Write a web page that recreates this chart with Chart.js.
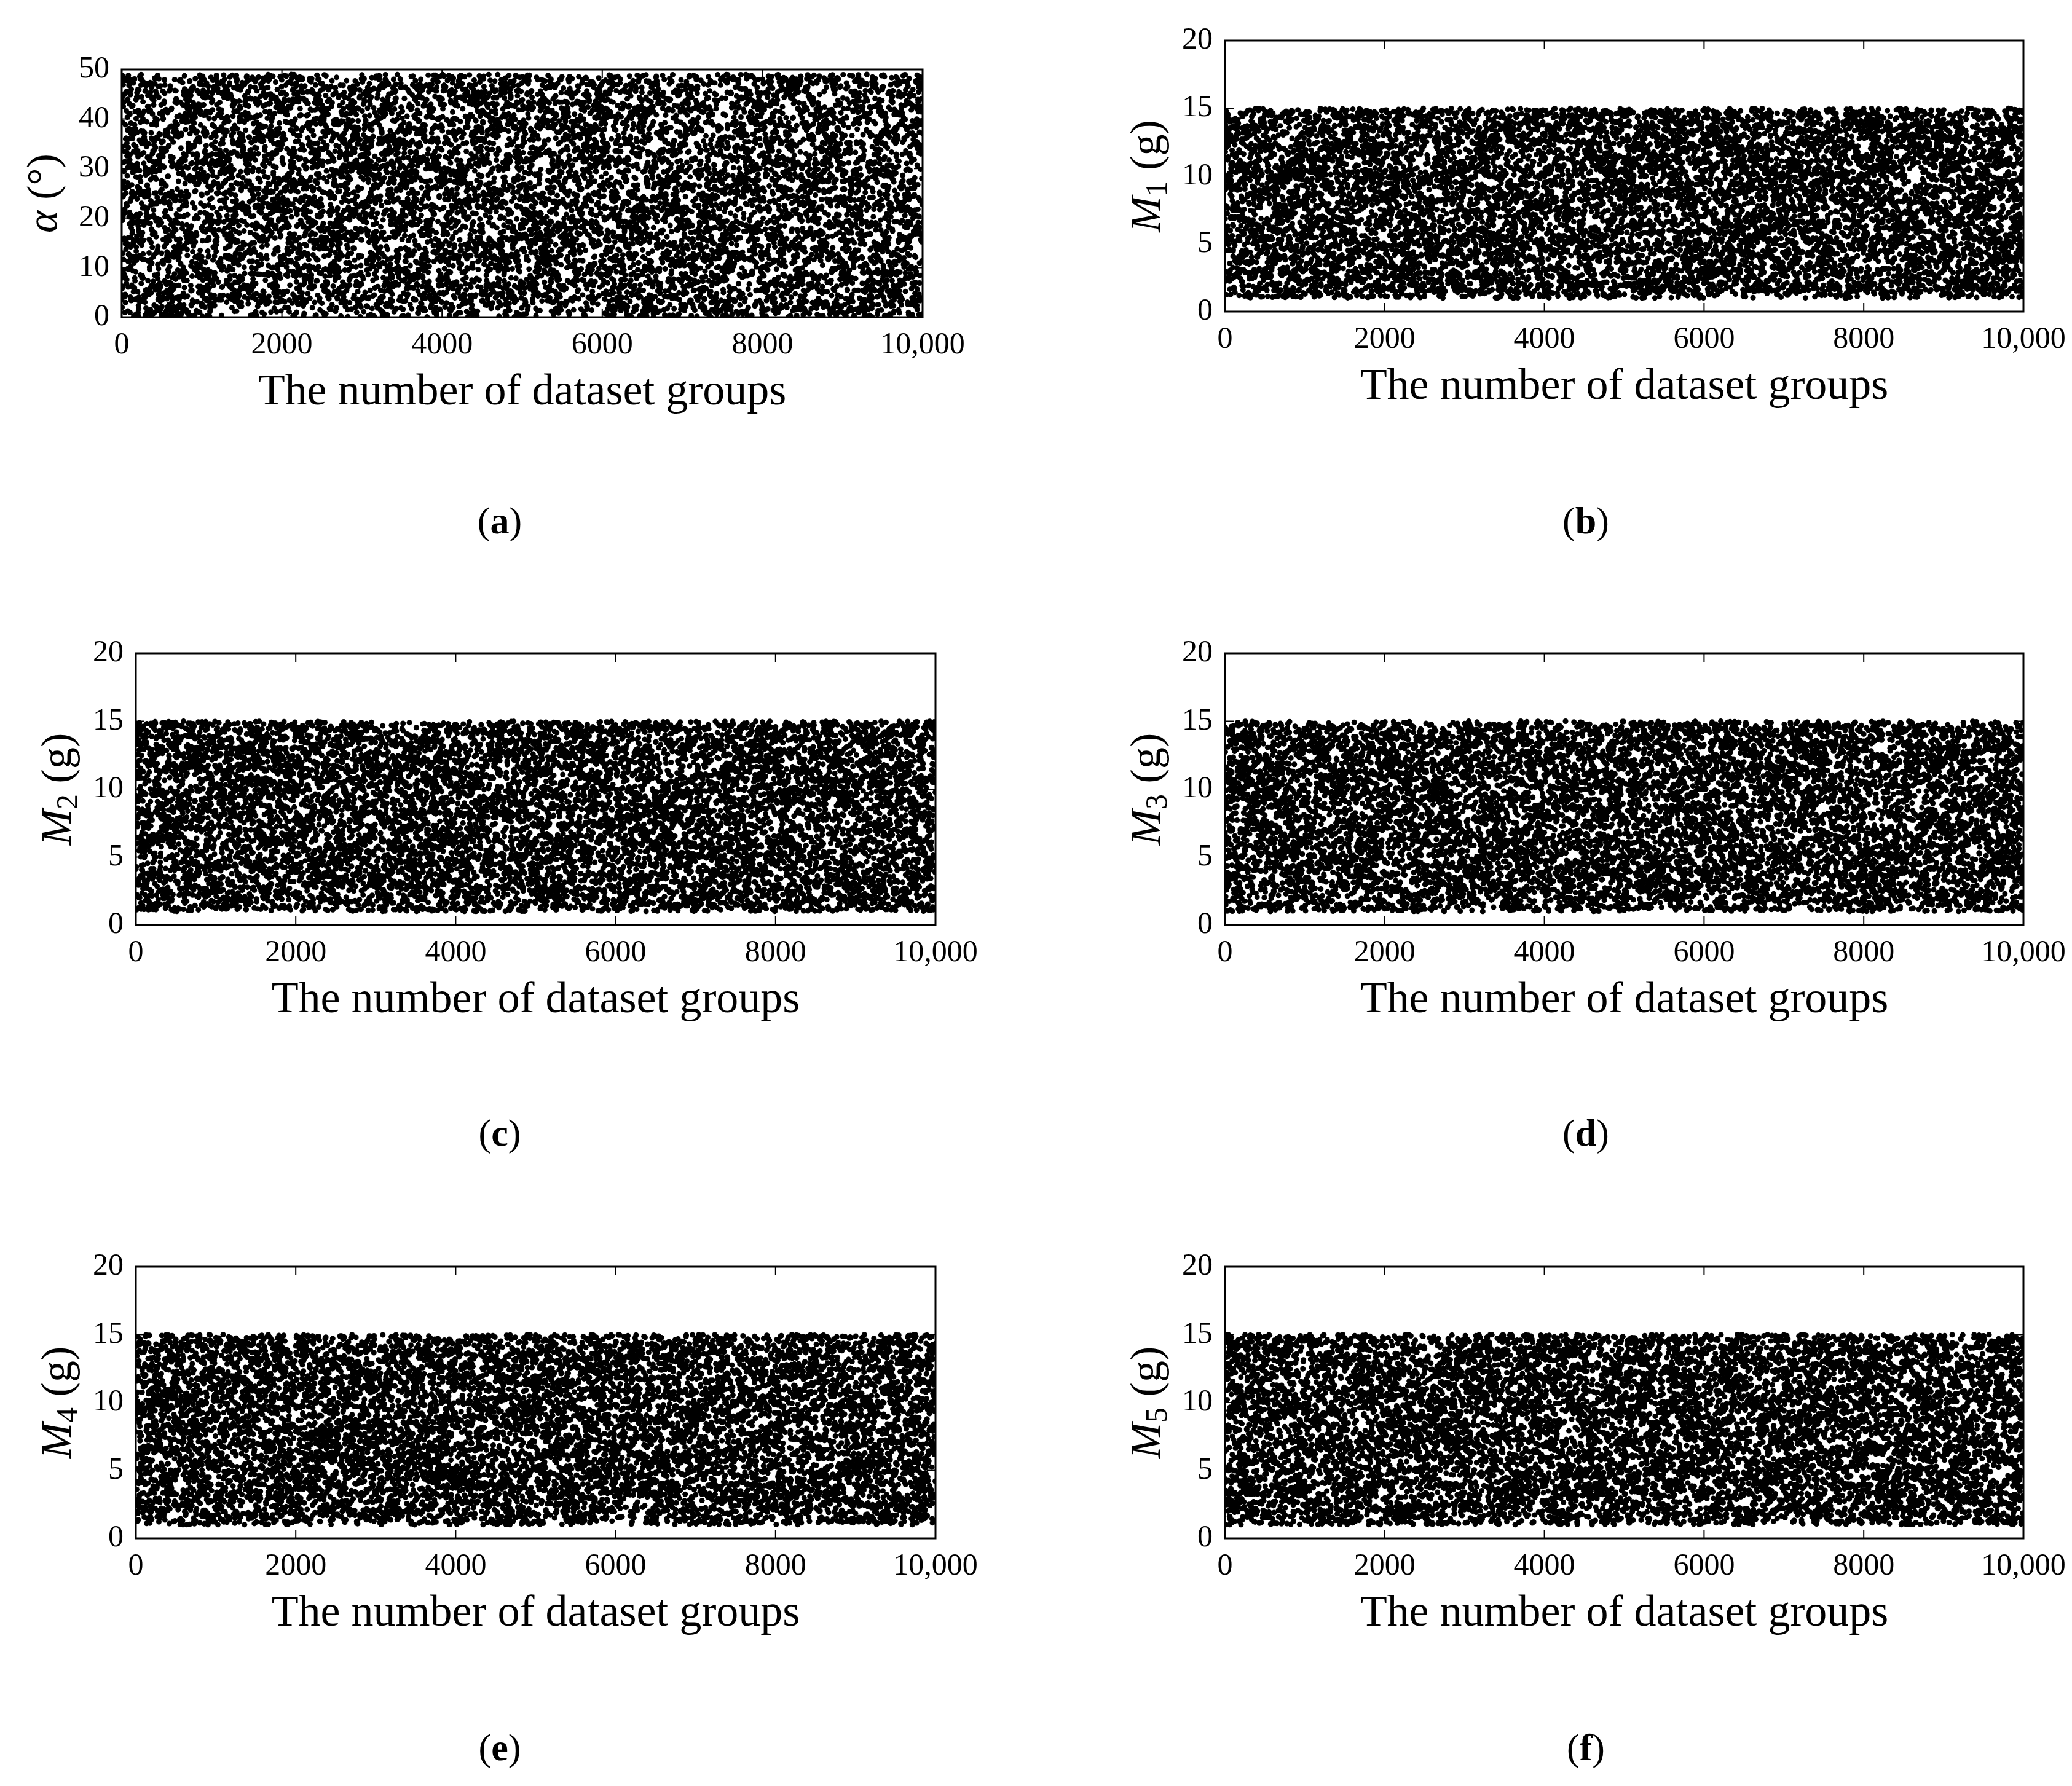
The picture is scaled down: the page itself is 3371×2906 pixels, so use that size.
<!DOCTYPE html>
<html><head><meta charset="utf-8">
<script src="https://cdn.jsdelivr.net/npm/chart.js@4/dist/chart.umd.min.js"></script>
<style>
body{margin:0;background:#fff;width:3371px;height:2906px;position:relative;overflow:hidden;font-family:"Liberation Serif",serif}
canvas{position:absolute}
.cap{position:absolute;font-size:62px;transform:translateX(-50%)}
.cap b{font-weight:bold}
</style></head><body>
<script>
// Panel definitions: y label parts, y range, sample range
const panelIds = ['a', 'b', 'c', 'd', 'e', 'f'];
const yLabelSymbols = ['α', 'M', 'M', 'M', 'M', 'M'];
const yLabelSubs = ['', '1', '2', '3', '4', '5'];
const yLabelUnits = [' (°)', ' (g)', ' (g)', ' (g)', ' (g)', ' (g)'];
const yMax = [50, 20, 20, 20, 20, 20];
const yStep = [10, 5, 5, 5, 5, 5];
const sampleMin = [0, 1, 1, 1, 1, 1];
const sampleMax = [49, 15, 15, 15, 15, 15];
const groupCount = 10000;
const xTicks = [0, 2000, 4000, 6000, 8000, 10000];
const xTickLabels = ['0', '2000', '4000', '6000', '8000', '10,000'];
const xTitle = 'The number of dataset groups';

// plot area boxes in page pixels [left, top, width, height]
const boxes = [[198,101,1303,415],[1993,54,1299,453],[221,1051,1301,454],[1993,1051,1299,454],[221,2049,1301,454],[1993,2049,1299,454]];
const capPos = [[813,812],[2580,812],[813,1808],[2580,1808],[813,2808],[2580,2808]];

// individual samples are unreadable noise; reproduce the uniform spread with a seeded generator
function mulberry32(a){return function(){a|=0;a=a+0x6D2B79F5|0;let t=Math.imul(a^a>>>15,1|a);t=t+Math.imul(t^t>>>7,61|t)^t;return((t^t>>>14)>>>0)/4294967296;};}

const frame = {
  id: 'frame',
  afterDraw(chart, args, o) {
    const {ctx, chartArea: a, scales: {x, y}} = chart;
    ctx.save();
    ctx.strokeStyle = '#000'; ctx.lineWidth = 3;
    ctx.strokeRect(a.left, a.top, a.right - a.left, a.bottom - a.top);
    ctx.lineWidth = 2;
    xTicks.forEach(v => { const px = x.getPixelForValue(v); ctx.beginPath(); ctx.moveTo(px, a.bottom); ctx.lineTo(px, a.bottom - 14); ctx.moveTo(px, a.top); ctx.lineTo(px, a.top + 14); ctx.stroke(); });
    for (let v = 0; v <= o.ymax; v += o.ystep) { const py = y.getPixelForValue(v); ctx.beginPath(); ctx.moveTo(a.left, py); ctx.lineTo(a.left + 14, py); ctx.moveTo(a.right, py); ctx.lineTo(a.right - 14, py); ctx.stroke(); }
    // x title
    ctx.fillStyle = '#000'; ctx.textAlign = 'center'; ctx.textBaseline = 'alphabetic';
    ctx.font = '72px "Liberation Serif"';
    ctx.fillText(xTitle, (a.left + a.right) / 2, a.bottom + 142);
    // y title, rotated
    ctx.translate(a.left - 124, (a.top + a.bottom) / 2);
    ctx.rotate(-Math.PI / 2);
    const f1 = 'italic 70px "Liberation Serif"', f2 = '50px "Liberation Serif"', f3 = '70px "Liberation Serif"';
    ctx.font = f1; const w1 = ctx.measureText(o.sym).width;
    ctx.font = f2; const w2 = o.sub ? ctx.measureText(o.sub).width : 0;
    ctx.font = f3; const w3 = ctx.measureText(o.unit).width;
    let sx = -(w1 + w2 + w3) / 2;
    ctx.textAlign = 'left'; ctx.textBaseline = 'middle';
    ctx.font = f1; ctx.fillText(o.sym, sx, 0); sx += w1;
    if (o.sub) { ctx.font = f2; ctx.fillText(o.sub, sx, 16); sx += w2; }
    ctx.font = f3; ctx.fillText(o.unit, sx, 0);
    ctx.restore();
  }
};

panelIds.forEach((id, i) => {
  const [L, T, W, H] = boxes[i];
  const mL = 170, mT = 30, mR = 80, mB = 160;
  const cv = document.createElement('canvas');
  cv.width = W + mL + mR; cv.height = H + mT + mB;
  cv.style.left = (L - mL) + 'px'; cv.style.top = (T - mT) + 'px';
  cv.style.width = cv.width + 'px'; cv.style.height = cv.height + 'px';
  document.body.appendChild(cv);
  const rnd = mulberry32(1234 + i * 97);
  const pts = [];
  for (let k = 1; k <= groupCount; k++) pts.push({x: k, y: sampleMin[i] + rnd() * (sampleMax[i] - sampleMin[i])});
  new Chart(cv, {
    type: 'scatter',
    data: {datasets: [{data: pts, backgroundColor: '#000', borderWidth: 0, pointRadius: 4.5}]},
    options: {
      responsive: false, animation: false, devicePixelRatio: 1,
      layout: {padding: {top: mT, right: mR, left: 0, bottom: 0}},
      plugins: {legend: {display: false}, tooltip: {enabled: false}, frame: {sym: yLabelSymbols[i], sub: yLabelSubs[i], unit: yLabelUnits[i], ymax: yMax[i], ystep: yStep[i]}},
      scales: {
        x: {type: 'linear', min: 0, max: groupCount, grid: {display: false}, border: {display: false},
            afterBuildTicks: s => { s.ticks = xTicks.map(v => ({value: v})); },
            afterFit: s => { s.height = mB; },
            ticks: {color: '#000', font: {family: 'Liberation Serif', size: 50}, padding: 8, maxRotation: 0,
                    callback: (v) => xTickLabels[xTicks.indexOf(v)]}},
        y: {min: 0, max: yMax[i], grid: {display: false}, border: {display: false},
            afterFit: s => { s.width = mL; },
            ticks: {stepSize: yStep[i], color: '#000', font: {family: 'Liberation Serif', size: 50}, padding: 12}}
      }
    },
    plugins: [frame]
  });
  const cap = document.createElement('div');
  cap.className = 'cap';
  cap.style.left = capPos[i][0] + 'px'; cap.style.top = capPos[i][1] + 'px';
  cap.innerHTML = '(<b>' + id + '</b>)';
  document.body.appendChild(cap);
});
</script>
</body></html>
